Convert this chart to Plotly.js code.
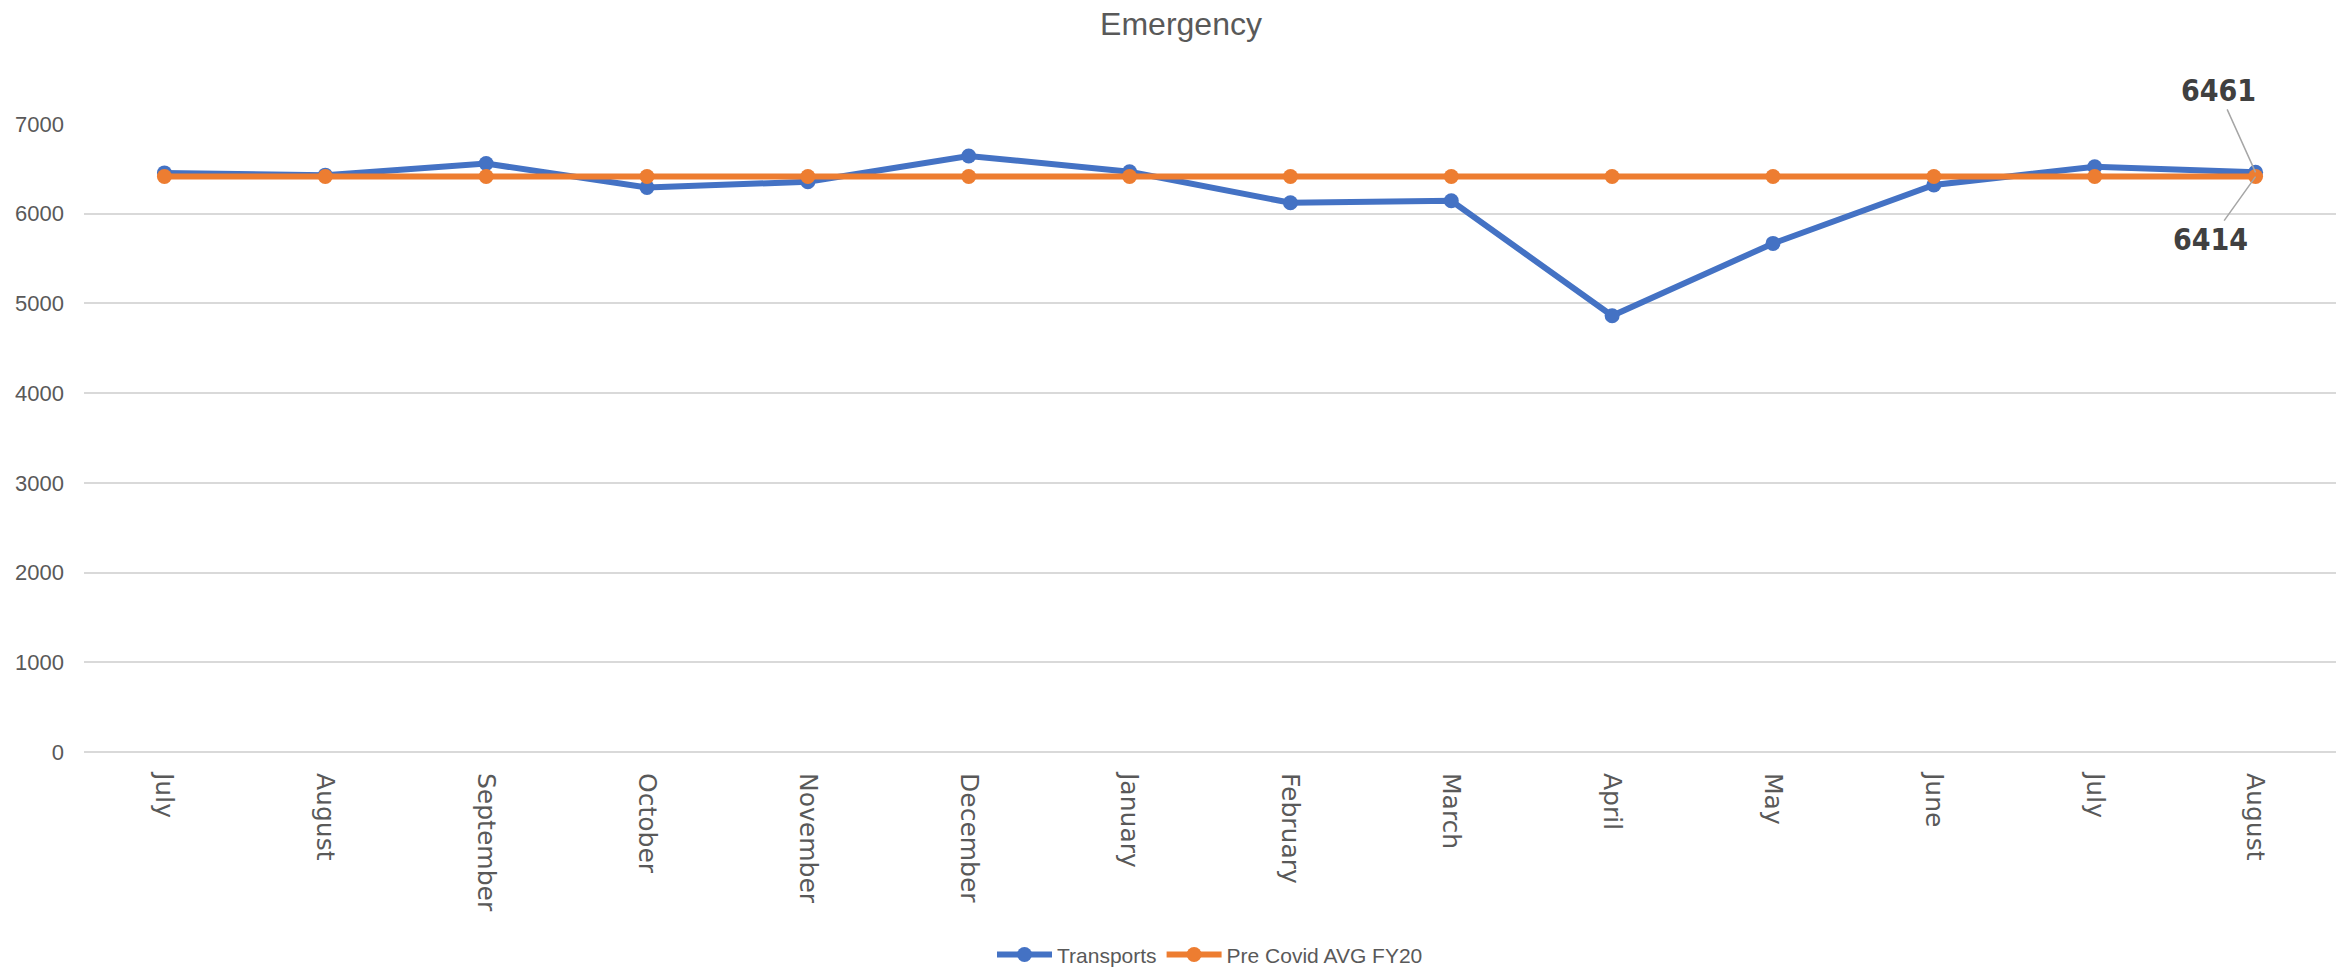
<!DOCTYPE html>
<html>
<head>
<meta charset="utf-8">
<script src="https://cdn.plot.ly/plotly-3.0.1.min.js"></script>
<style>html,body{margin:0;padding:0;background:#fff;}#chart{width:2341px;height:973px;}</style>
</head>
<body>
<div id="chart"></div>
<script>
const months = ["July","August","September","October","November","December","January","February","March","April","May","June","July ","August "];
const transports = [6455, 6430, 6559, 6293, 6356, 6644, 6467, 6122, 6144, 4862, 5669, 6320, 6524, 6461];
const preCovidAvg = [6414, 6414, 6414, 6414, 6414, 6414, 6414, 6414, 6414, 6414, 6414, 6414, 6414, 6414];
const seriesNames = ["Transports", "Pre Covid AVG FY20"];
const yTicks = [0, 1000, 2000, 3000, 4000, 5000, 6000, 7000];

const lastIdx = months.length - 1;

const traces = [
  {
    x: months, y: transports, name: seriesNames[0], type: "scatter", mode: "lines+markers",
    line: {color: "#4472C4", width: 6}, marker: {color: "#4472C4", size: 15}, cliponaxis: false
  },
  {
    x: months, y: preCovidAvg, name: seriesNames[1], type: "scatter", mode: "lines+markers",
    line: {color: "#ED7D31", width: 6}, marker: {color: "#ED7D31", size: 15}, cliponaxis: false
  }
];

const layout = {
  width: 2341, height: 973,
  paper_bgcolor: "#ffffff", plot_bgcolor: "#ffffff",
  margin: {l: 84, r: 5, t: 124, b: 221, autoexpand: false},
  title: {
    text: "Emergency", x: 0.5045, xanchor: "center", y: 0.976, yanchor: "middle",
    font: {family: "Liberation Sans, sans-serif", size: 32, color: "#595959"}
  },
  xaxis: {
    type: "category", range: [-0.5, months.length - 0.5], autorange: false,
    tickangle: 90, showgrid: false, zeroline: false, showline: false,
    ticks: "", ticklabelstandoff: 20,
    tickfont: {family: "DejaVu Sans, sans-serif", size: 25, color: "#595959"}
  },
  yaxis: {
    range: [0, 7000], autorange: false, tickvals: yTicks, ticktext: yTicks.map(String),
    showgrid: true, gridcolor: "#d9d9d9", gridwidth: 2,
    zeroline: true, zerolinecolor: "#d9d9d9", zerolinewidth: 2,
    showline: false, ticks: "", ticklabelstandoff: 19,
    tickfont: {family: "Liberation Sans, sans-serif", size: 22, color: "#595959"}
  },
  showlegend: true,
  legend: {
    orientation: "h", x: 0.5, xanchor: "center", y: -0.323, yanchor: "middle",
    font: {family: "Liberation Sans, sans-serif", size: 21, color: "#595959"},
    itemwidth: 55
  },
  annotations: [
    {
      x: months[lastIdx], y: transports[lastIdx], xref: "x", yref: "y",
      text: "<b>" + transports[lastIdx] + "</b>", showarrow: true, arrowhead: 0, arrowwidth: 1.5,
      arrowcolor: "#a6a6a6", ax: -37, ay: -82,
      font: {family: "DejaVu Sans Condensed, DejaVu Sans, sans-serif", size: 30, color: "#404040"}
    },
    {
      x: months[lastIdx], y: preCovidAvg[lastIdx], xref: "x", yref: "y",
      text: "<b>" + preCovidAvg[lastIdx] + "</b>", showarrow: true, arrowhead: 0, arrowwidth: 1.5,
      arrowcolor: "#a6a6a6", ax: -45, ay: 63,
      font: {family: "DejaVu Sans Condensed, DejaVu Sans, sans-serif", size: 30, color: "#404040"}
    }
  ]
};

Plotly.newPlot("chart", traces, layout, {displayModeBar: false, staticPlot: true});
</script>
</body>
</html>
